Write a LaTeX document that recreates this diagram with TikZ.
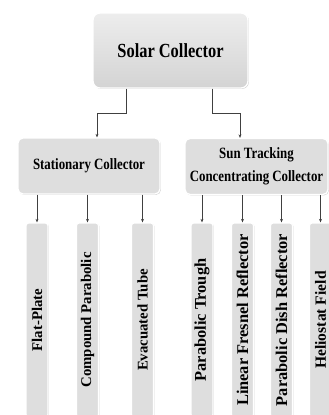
\documentclass[tikz,border=0pt]{standalone}
\usepackage{fontspec}
\usepackage{graphicx}
\setmainfont{Liberation Serif}
\usetikzlibrary{shadows,arrows.meta}
\begin{document}
\begin{tikzpicture}[x=1pt,y=-1pt,
  box/.style={rectangle, rounded corners=4pt, fill=gray!26, draw=white, line width=1.3pt,
    drop shadow={shadow xshift=0.9pt, shadow yshift=-0.9pt, opacity=0.45, fill=gray!80},
    inner sep=0pt, align=center},
  topbox/.style={box, rounded corners=7pt, top color=gray!14, bottom color=gray!34,
    minimum width=155pt, minimum height=75pt, font=\bfseries\fontsize{20}{24}\selectfont},
  midbox/.style={box, rounded corners=5pt, minimum height=56pt,
    font=\bfseries\fontsize{15.7}{23}\selectfont},
  leaf/.style={box, rounded corners=2.5pt, rotate=90, minimum width=194pt, minimum height=22pt},
  leafL/.style={leaf, font=\bfseries\fontsize{14.8}{16}\selectfont},
  leafR/.style={leaf, font=\bfseries\fontsize{16.4}{18}\selectfont},
  conn/.style={draw=black!75, line width=0.7pt, -{Stealth[length=3.5pt,width=3pt]}}]
\useasboundingbox (0,0) rectangle (329,415);
\clip (0,0) rectangle (329,415);
\newcommand{\sq}[1]{\scalebox{0.82}[1]{#1}}

\node[topbox] (top) at (170.5,50.5) {\sq{Solar Collector}};
\node[midbox, minimum width=142pt] (st) at (89,166) {\sq{Stationary Collector}};
\node[midbox, minimum width=143pt] (su) at (256.5,166.5) {\sq{Sun Tracking}\\\sq{Concentrating Collector}};

\node[leafL] (fp) at (37,320) {Flat-Plate};
\node[leafL] (cp) at (87.5,320) {Compound Parabolic};
\node[leafL] (et) at (142.5,320) {Evacuated Tube};
\node[leafR] (pt) at (202,320) {Parabolic Trough};
\node[leafR] (lf) at (242.5,320) {Linear Fresnel Reflector};
\node[leafR] (pd) at (281.5,320) {Parabolic Dish Reflector};
\node[leafR, font=\bfseries\fontsize{15.6}{18}\selectfont] (hf) at (320.5,320) {Heliostat Field};

\coordinate (k1) at (126,113);
\coordinate (a1) at (97,0);
\coordinate (k2) at (212,113);
\coordinate (a2) at (240,0);
\draw[conn] (top.south -| k1) -- (k1) -| (st.north -| a1);
\draw[conn] (top.south -| k2) -- (k2) -| (su.north -| a2);

\foreach \n in {fp,cp,et}{\draw[conn] (st.south -| \n.east) -- (\n.east);}
\foreach \n in {pt,lf,pd,hf}{\draw[conn] (su.south -| \n.east) -- (\n.east);}
\end{tikzpicture}
\end{document}
